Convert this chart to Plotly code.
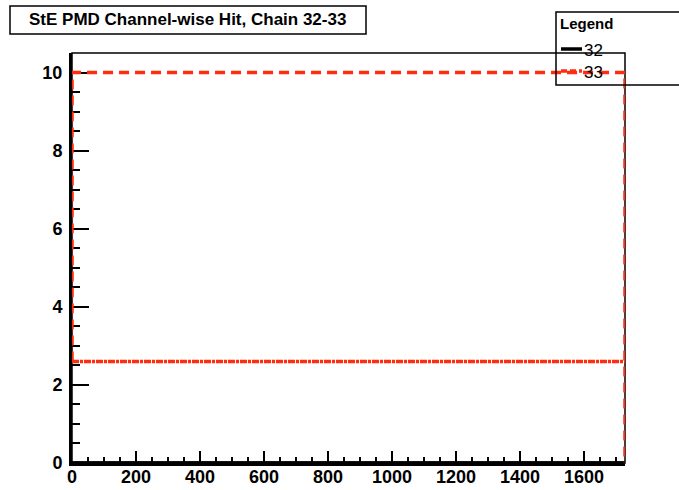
import plotly.graph_objects as go

# ---- data ----
series_names = ["32", "33"]
channel_edges = [0, 1728]          # first / last channel edge
baseline_hits = [0, 2.6]           # flat level across all channels
envelope_hits = [0, 10]            # outer envelope level
series_colors = ["#000000", "#ff2d0f"]
series_dash = ["solid", "10px,6px"]

x_ticks = [0, 200, 400, 600, 800, 1000, 1200, 1400, 1600]
y_ticks = [0, 2, 4, 6, 8, 10]

FONT = "Liberation Sans, Arial, Helvetica, sans-serif"

fig = go.Figure()
x0, x1 = channel_edges
for name, base, env, col, dash in zip(series_names, baseline_hits, envelope_hits,
                                      series_colors, series_dash):
    # outline
    fig.add_trace(go.Scatter(
        x=[x0, x0, x1, x1], y=[base, env, env, 0],
        mode="lines", line=dict(color=col, width=3.5, dash=dash),
        cliponaxis=False, showlegend=False, name=name, hoverinfo="skip"))
    # flat level
    fig.add_trace(go.Scatter(
        x=[x0, x1], y=[base, base],
        mode="lines", line=dict(color=col, width=3.5,
                                dash="7px,1px,3px,1px" if dash != "solid" else "solid"),
        cliponaxis=False, showlegend=False, name=name, hoverinfo="skip"))

axis_common = dict(
    showgrid=False, zeroline=False, showline=True, linecolor="black", linewidth=3,
    ticks="inside", tickcolor="black", tickwidth=2, automargin=False,
    tickfont=dict(family=FONT, size=18, color="black", weight="bold"),
    layer="below traces",
)

fig.update_xaxes(range=[0, 1728], tickvals=x_ticks, ticklen=12,
                 minor=dict(dtick=50, ticklen=6, ticks="inside", tickcolor="black", tickwidth=2),
                 ticklabelstandoff=-5, **axis_common)
fig.update_yaxes(range=[0, 10.5], tickvals=y_ticks, ticklen=17,
                 minor=dict(dtick=0.5, ticklen=8, ticks="inside", tickcolor="black", tickwidth=2),
                 ticklabelstandoff=3, **axis_common)

L, T, W, H = 72, 53, 553, 410
def px(x): return (x - L) / W
def py(y): return (T + H - y) / H

shapes = [
    # thin frame (top / right)
    dict(type="rect", xref="paper", yref="paper", x0=0, y0=0, x1=1, y1=1,
         line=dict(color="black", width=1.5), layer="below"),
    # title box
    dict(type="rect", xref="paper", yref="paper",
         x0=px(10), x1=px(366), y0=py(34), y1=py(6),
         line=dict(color="black", width=1.5), fillcolor="white"),
    # legend box
    dict(type="rect", xref="paper", yref="paper",
         x0=px(556), x1=px(695), y0=py(85), y1=py(12),
         line=dict(color="black", width=1.5), fillcolor="rgba(0,0,0,0)", layer="above"),
]
# legend samples
for i, (col, dash) in enumerate(zip(series_colors, series_dash)):
    yy = py(49 + 22 * i)
    shapes.append(dict(type="line", xref="paper", yref="paper",
                       x0=px(561), x1=px(582), y0=yy, y1=yy,
                       line=dict(color=col, width=3.5, dash="6px,3px" if dash != "solid" else "solid")))

annotations = [
    dict(text="StE PMD Channel-wise Hit, Chain 32-33", xref="paper", yref="paper",
         x=px(187), y=py(20), showarrow=False,
         xanchor="center", yanchor="middle",
         font=dict(family=FONT, size=17, color="black", weight="bold")),
    dict(text="Legend", xref="paper", yref="paper",
         x=px(558), y=py(24), showarrow=False,
         xanchor="left", yanchor="middle",
         font=dict(family=FONT, size=15, color="black", weight="bold")),
]
for i, name in enumerate(series_names):
    annotations.append(dict(text=name, xref="paper", yref="paper",
                            x=px(582), y=py(50 + 22 * i),
                            showarrow=False, xanchor="left", yanchor="middle",
                            font=dict(family=FONT, size=17, color="black")))

fig.update_layout(
    width=679, height=490,
    margin=dict(l=L, r=679 - L - W, t=T, b=490 - T - H, pad=0),
    paper_bgcolor="white", plot_bgcolor="white",
    shapes=shapes, annotations=annotations, showlegend=False,
)

fig.write_html("out.html", config={"displayModeBar": False},
               post_script="document.body.style.margin='0';document.body.style.overflow='hidden';")
